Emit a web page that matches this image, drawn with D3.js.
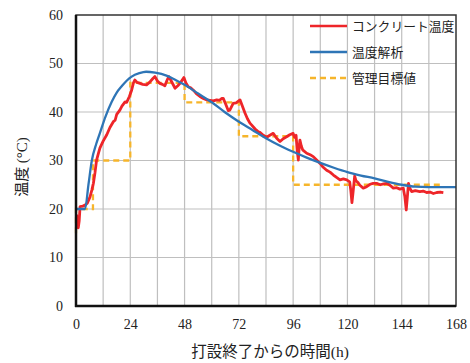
<!DOCTYPE html>
<html><head><meta charset="utf-8">
<script src="https://cdn.jsdelivr.net/npm/d3@7"></script>
<style>body{margin:0;background:#fff}</style>
</head><body>
<svg id="c" width="470" height="363"></svg>
<script>
const xTicks = [0,24,48,72,96,120,144,168];
const yTicks = [0,10,20,30,40,50,60];
const seriesNames = ["コンクリート温度","温度解析","管理目標値"];
// concrete measured temperature [h, °C]
const measured = [[0,18.8],[0.6,18.4],[1,16.1],[1.4,17.5],[1.8,20.5],[3,20.6],[4,20.8],[5,21.2],[6.2,22.5],[7,23.9],[7.7,25.3],[8.4,27.5],[9.1,30.1],[10,31.6],[10.6,32.6],[12,34],[13.6,35.3],[15,36.8],[16.5,38],[17.3,38.3],[18,39.5],[19.4,40.4],[20.3,41.2],[21.7,42.1],[22.4,42.0],[23.6,43.2],[24.6,44.5],[25.4,46],[26,46.6],[27,46.1],[28.3,45.9],[29.5,45.7],[31.2,45.6],[32.5,46.1],[34,46.9],[34.9,47.3],[36,46.4],[37.1,45.9],[38.2,45.7],[39.3,45.4],[40.2,46.5],[41,47.3],[42,46.5],[43.8,44.9],[45,45.4],[46,45.9],[47.7,47.1],[48.6,46],[49.6,45.2],[50.7,45.0],[51.9,44.5],[53.2,43.8],[54.8,43.2],[56.3,42.8],[57.8,42.5],[60.7,42.3],[62.2,42.5],[63.5,42.4],[64.4,42.8],[65.1,42.8],[66.2,41.6],[67.3,40.3],[68,40.4],[69.5,41.8],[70.8,41.9],[72.5,42.5],[73.5,41.3],[74.7,39.8],[75.8,38.6],[76.9,37.7],[77.7,37.3],[79.2,36.5],[80.6,35.9],[81.3,35.8],[82.8,35.2],[84.3,34.8],[85.7,35.2],[87.2,35.6],[88.7,34.6],[90.2,33.9],[91.6,34.5],[93.1,34.9],[94.5,35.3],[96,35.6],[96.6,34.8],[97.3,35.2],[97.8,32],[98.3,30.1],[98.7,33],[99,34.2],[99.6,33],[100.2,32.2],[102,31.5],[103.5,31.2],[104.9,30.8],[106.4,30.1],[107.9,29.4],[109.3,28.6],[110.8,28],[112.3,27.6],[113.8,27],[115.2,26.5],[116.7,26],[118.2,26.2],[119.7,26],[121,25.6],[121.5,23.8],[122,21.3],[122.5,23.5],[123.2,26.8],[123.8,25.8],[124.6,25.5],[125.5,24.9],[127,24.3],[128.5,24.6],[130,25.1],[131.4,25.3],[132.9,25.3],[134.5,25.0],[136,25.2],[137.4,25.3],[138.8,24.9],[140.3,24.3],[141.8,24.4],[143.2,24.1],[144.7,24.3],[145.4,22.5],[146,19.8],[146.5,22.5],[147,25.3],[147.7,24.2],[148.4,23.6],[150,23.8],[152,23.6],[153.5,23.7],[155,23.4],[156.5,23.5],[158,23.2],[159.5,23.4],[161,23.5],[162.4,23.4]];
// analysis temperature
const analysis = [[0,20],[4,20],[5.5,25],[7,30],[9,33.5],[10.6,35.7],[13,39],[15.8,42.1],[18,44],[20.2,45.3],[22.5,46.5],[24.6,47.3],[28,48],[31,48.3],[35,48.1],[40,47.5],[44,46.6],[48,45.6],[54,43.8],[60,42],[66,39.9],[72,38],[78,36.3],[84,34.6],[90,33.1],[96,31.8],[102,30.6],[108,29.5],[114,28.5],[120,27.6],[126,26.9],[132,26.3],[138,25.6],[144,25.0],[150,24.6],[156,24.5],[168,24.5]];
// management target (step)
const target = [[0,15],[0,20],[7.5,20],[7.5,30],[24,30],[24,46],[48,46],[48,42],[72,42],[72,35],[96,35],[96,25],[162,25]];

const svg = d3.select("#c");
const L=76, R=456, T=15, B=306;
const x = d3.scaleLinear().domain([0,168]).range([L,R]);
const y = d3.scaleLinear().domain([0,60]).range([B,T]);

// grid
const vgrid = d3.range(12,168,12);
svg.append("g").selectAll("line").data(vgrid).join("line")
  .attr("x1",d=>x(d)).attr("x2",d=>x(d)).attr("y1",T).attr("y2",B)
  .attr("stroke","#bfbfbf").attr("stroke-width",1.2);
svg.append("g").selectAll("line").data(yTicks.filter(d=>d>0&&d<60)).join("line")
  .attr("x1",L).attr("x2",R).attr("y1",d=>y(d)).attr("y2",d=>y(d))
  .attr("stroke","#bfbfbf").attr("stroke-width",1.2);

const line = d3.line().x(d=>x(d[0])).y(d=>y(d[1]));
const colors = ["#ee2529","#2e75b6","#f6b52b"];

svg.append("path").datum(target).attr("d",line).attr("fill","none")
  .attr("stroke",colors[2]).attr("stroke-width",2.3).attr("stroke-dasharray","6,4");
svg.append("path").datum(measured).attr("d",line).attr("fill","none")
  .attr("stroke",colors[0]).attr("stroke-width",2.8).attr("stroke-linejoin","round");
svg.append("path").datum(analysis).attr("d",d3.line().curve(d3.curveMonotoneX).x(d=>x(d[0])).y(d=>y(d[1]))).attr("fill","none")
  .attr("stroke",colors[1]).attr("stroke-width",2.3);

// frame
svg.append("rect").attr("x",L).attr("y",T).attr("width",R-L).attr("height",B-T)
  .attr("fill","none").attr("stroke","#333").attr("stroke-width",1.5);
svg.append("line").attr("x1",L).attr("x2",L).attr("y1",T).attr("y2",B+1).attr("stroke","#111").attr("stroke-width",2.5);
svg.append("line").attr("x1",L-1).attr("x2",R).attr("y1",B).attr("y2",B).attr("stroke","#111").attr("stroke-width",2.5);

// axes labels via d3 axes
const xAxis = d3.axisBottom(x).tickValues(xTicks).tickSize(0).tickPadding(13);
const gx = svg.append("g").attr("transform",`translate(0,${B})`).call(xAxis);
gx.select(".domain").remove();
gx.selectAll("text").attr("font-family","'Liberation Serif','Times New Roman',serif").attr("font-size",14).attr("fill","#222");
const yAxis = d3.axisLeft(y).tickValues(yTicks).tickSize(0).tickPadding(13);
const gy = svg.append("g").attr("transform",`translate(${L},0)`).call(yAxis);
gy.select(".domain").remove();
gy.selectAll("text").attr("font-family","'Liberation Serif','Times New Roman',serif").attr("font-size",14).attr("fill","#222");

// titles
const xt = svg.append("text").attr("x",270).attr("y",357).attr("text-anchor","middle")
  .attr("font-size",15.5).attr("fill","#222").attr("font-family","'Noto Sans CJK JP',sans-serif");
xt.append("tspan").text("打設終了からの時間");
xt.append("tspan").attr("font-family","'Liberation Serif',serif").text("(h)");
const yt = svg.append("text").attr("transform","translate(27,167) rotate(-90)").attr("text-anchor","middle")
  .attr("font-size",15).attr("fill","#222").attr("font-family","'Noto Sans CJK JP',sans-serif");
yt.append("tspan").text("温度 ");
yt.append("tspan").attr("font-family","'Liberation Serif',serif").text("(°C)");

// legend
const lg = svg.append("g");
const rows = [26,52,78];
seriesNames.forEach((n,i)=>{
  lg.append("line").attr("x1",310).attr("x2",347).attr("y1",rows[i]).attr("y2",rows[i])
    .attr("stroke",colors[i]).attr("stroke-width",i==2?2.3:2.5)
    .attr("stroke-dasharray",i==2?"6,4":null);
  lg.append("text").attr("x",352).attr("y",rows[i]).attr("dy","0.36em")
    .attr("font-size",12.8).attr("fill","#222").attr("font-family","'Noto Sans CJK JP',sans-serif").text(n);
});
</script>
</body></html>
